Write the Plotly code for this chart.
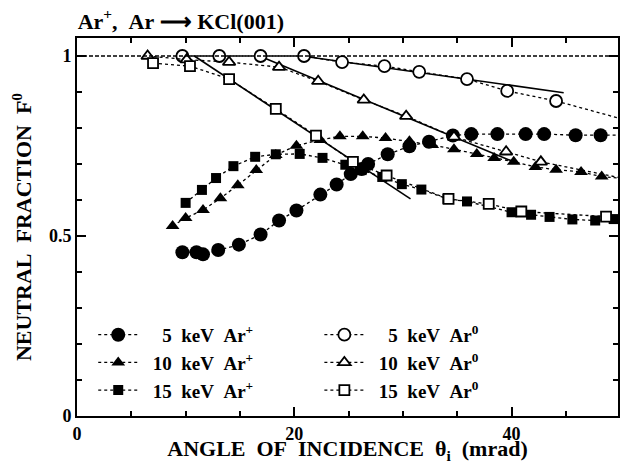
import plotly.graph_objects as go

# ---------------- data ----------------
# 5 keV Ar+ (filled circles)
ion5_x = [9.7, 11.0, 11.6, 13.0, 14.9, 16.9, 18.6, 20.2, 22.4, 23.9, 25.2, 26.2, 26.8, 28.6, 30.6, 32.4, 34.6, 36.3, 38.7, 41.3, 43.0, 45.9, 48.2]
ion5_y = [0.455, 0.455, 0.449, 0.461, 0.476, 0.504, 0.543, 0.571, 0.615, 0.643, 0.672, 0.686, 0.700, 0.727, 0.749, 0.762, 0.779, 0.783, 0.783, 0.783, 0.783, 0.780, 0.780]
ion5_tail_x = [48.2, 49.8]
ion5_tail_y = [0.780, 0.780]

# 10 keV Ar+ (filled triangles)
ion10_x = [8.8, 10.0, 11.6, 13.2, 14.8, 16.5, 18.3, 20.2, 22.4, 24.2, 26.3, 28.4, 30.6, 32.7, 34.7, 36.8, 38.4, 40.2, 42.2, 44.1, 46.4, 48.3]
ion10_y = [0.528, 0.550, 0.572, 0.605, 0.641, 0.683, 0.725, 0.751, 0.767, 0.777, 0.777, 0.772, 0.763, 0.753, 0.741, 0.728, 0.717, 0.706, 0.692, 0.684, 0.678, 0.665]
ion10_tail_x = [48.3, 49.8]
ion10_tail_y = [0.665, 0.661]

# 15 keV Ar+ (filled squares)
ion15_x = [10.0, 11.5, 12.8, 14.4, 16.4, 18.3, 20.5, 22.6, 24.7, 26.2, 28.1, 29.9, 31.7, 34.1, 35.9, 40.0, 41.8, 43.5, 45.6, 47.7, 49.4]
ion15_y = [0.592, 0.628, 0.661, 0.694, 0.720, 0.727, 0.728, 0.717, 0.698, 0.683, 0.664, 0.644, 0.629, 0.603, 0.596, 0.566, 0.559, 0.553, 0.546, 0.543, 0.547]

# 5 keV Ar0 (open circles)
neu5_x = [9.7, 13.1, 16.9, 20.9, 24.4, 28.3, 31.5, 35.9, 39.6, 44.1]
neu5_y = [1.0, 1.0, 1.0, 1.0, 0.983, 0.972, 0.956, 0.936, 0.903, 0.875]
neu5_tail_x = [44.1, 49.8]
neu5_tail_y = [0.875, 0.828]

# 10 keV Ar0 (open triangles)
neu10_x = [6.5, 10.1, 14.0, 18.6, 22.2, 26.4, 30.3, 34.7, 39.5, 42.7]
neu10_y = [1.0, 0.99, 0.983, 0.969, 0.930, 0.878, 0.833, 0.775, 0.734, 0.706]
neu10_tail_x = [42.7, 49.8]
neu10_tail_y = [0.706, 0.663]

# 15 keV Ar0 (open squares)
neu15_x = [7.0, 10.4, 14.0, 18.3, 22.0, 25.4, 28.5, 34.2, 37.9, 40.9, 48.7]
neu15_y = [0.980, 0.972, 0.936, 0.853, 0.779, 0.706, 0.668, 0.603, 0.589, 0.568, 0.554]
neu15_tail_x = [48.7, 49.8]
neu15_tail_y = [0.554, 0.553]

# straight-line fits (solid)
fit5_x = [20.7, 44.8]
fit5_y = [1.0, 0.898]
fit10_x = [16.8, 40.2]
fit10_y = [1.0, 0.706]
fit15_x = [10.8, 30.7]
fit15_y = [1.0, 0.603]

ref_level = 1.0

x_ticks = [0, 20, 40]
y_ticks = [0, 0.5, 1]
y_tick_text = ["0", "0.5", "1"]

FONT = "Liberation Serif, Times New Roman, serif"
SP = "\u00a0\u00a0"
FS = "\u2007"
PAD = "\u00a0\u00a0"

labels = {
    "ion5": PAD + FS + "5" + SP + "keV" + SP + "Ar<sup>+</sup>",
    "neu5": PAD + FS + "5" + SP + "keV" + SP + "Ar<sup>0</sup>",
    "ion10": PAD + "10" + SP + "keV" + SP + "Ar<sup>+</sup>",
    "neu10": PAD + "10" + SP + "keV" + SP + "Ar<sup>0</sup>",
    "ion15": PAD + "15" + SP + "keV" + SP + "Ar<sup>+</sup>",
    "neu15": PAD + "15" + SP + "keV" + SP + "Ar<sup>0</sup>",
}

fig = go.Figure()

dot_line = dict(color="black", width=1.3, dash="dot")
solid_line = dict(color="black", width=1.6)

# solid fit lines (under markers)
for fx, fy in [(fit5_x, fit5_y), (fit10_x, fit10_y), (fit15_x, fit15_y)]:
    fig.add_trace(go.Scatter(x=fx, y=fy, mode="lines", line=solid_line,
                             showlegend=False, hoverinfo="skip"))

# dotted tails
for tx, ty in [(ion5_tail_x, ion5_tail_y), (ion10_tail_x, ion10_tail_y),
               (neu5_tail_x, neu5_tail_y), (neu10_tail_x, neu10_tail_y),
               (neu15_tail_x, neu15_tail_y)]:
    fig.add_trace(go.Scatter(x=tx, y=ty, mode="lines", line=dot_line,
                             showlegend=False, hoverinfo="skip"))

series = [
    ("ion5", ion5_x, ion5_y, "circle", 14, False, "legend"),
    ("ion10", ion10_x, ion10_y, "triangle-up", 12, False, "legend"),
    ("ion15", ion15_x, ion15_y, "square", 10, False, "legend"),
    ("neu5", neu5_x, neu5_y, "circle", 12, True, "legend2"),
    ("neu10", neu10_x, neu10_y, "triangle-up", 11, True, "legend2"),
    ("neu15", neu15_x, neu15_y, "square", 10, True, "legend2"),
]
for key, sx, sy, sym, size, is_open, leg in series:
    if is_open:
        marker = dict(symbol=sym, size=size, color="white",
                      line=dict(color="black", width=1.8))
    else:
        marker = dict(symbol=sym, size=size, color="black", line=dict(width=0))
    fig.add_trace(go.Scatter(x=sx, y=sy, mode="lines+markers", name=labels[key],
                             line=dot_line, marker=marker, legend=leg,
                             legendgroup=key))

fig.add_hline(y=ref_level, line=dict(color="black", width=1.3, dash="4px,2px"))

axis_common = dict(
    showgrid=False, zeroline=False, showline=True, linecolor="black", linewidth=2,
    mirror="allticks", ticks="inside", ticklen=9, tickwidth=1.8, tickcolor="black",
)

fig.update_xaxes(range=[0, 49.8], tickvals=x_ticks, ticktext=[str(v) for v in x_ticks],
                 minor=dict(dtick=5, ticks="inside", ticklen=5, tickwidth=1.5, tickcolor="black"),
                 title=dict(text="ANGLE\u00a0 OF\u00a0 INCIDENCE\u00a0\u00a0θ<sub>i</sub>\u00a0\u00a0(mrad)",
                            font=dict(size=22), standoff=1),
                 tickfont=dict(size=18), automargin=False, **axis_common)
fig.update_yaxes(range=[0, 1.05], tickvals=y_ticks, ticktext=y_tick_text,
                 minor=dict(dtick=0.1, ticks="inside", ticklen=5, tickwidth=1.5, tickcolor="black"),
                 title=dict(text="NEUTRAL\u00a0\u00a0FRACTION\u00a0\u00a0F<sup>0</sup>",
                            font=dict(size=22), standoff=11),
                 tickfont=dict(size=18), automargin=False, **axis_common)

leg_common = dict(orientation="v", xanchor="left", yanchor="top", bgcolor="rgba(0,0,0,0)",
                  font=dict(size=19), traceorder="normal", itemwidth=40, tracegroupgap=6)

fig.update_layout(
    width=621, height=464,
    margin=dict(l=77, r=3, t=38, b=48, autoexpand=False),
    paper_bgcolor="white", plot_bgcolor="white",
    font=dict(family=FONT, color="black", weight="bold"),
    title=dict(text="Ar<sup>+</sup>,\u00a0\u00a0Ar\u00a0\u27f6\u00a0KCl(001)", x=0.125, xanchor="left",
               y=0.955, yanchor="middle", font=dict(size=22)),
    legend=dict(x=0.03, y=0.265, **leg_common),
    legend2=dict(x=0.448, y=0.265, **leg_common),
    showlegend=True,
)

fig.write_html("out.html")
